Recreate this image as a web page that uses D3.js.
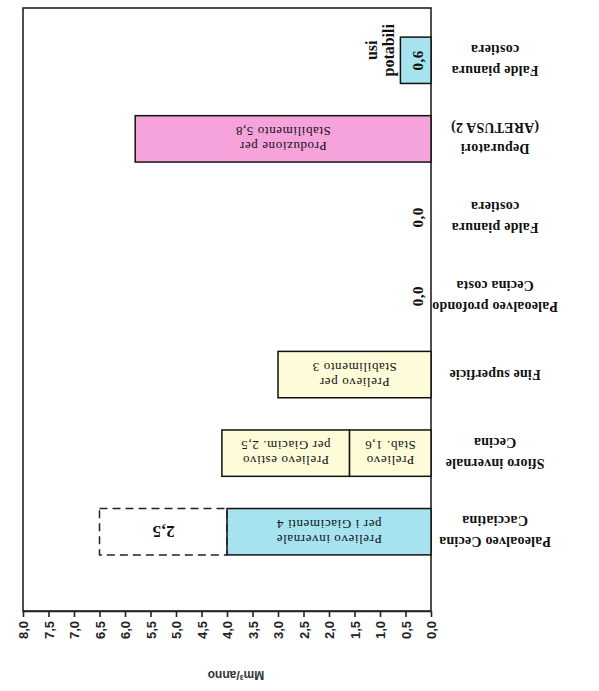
<!DOCTYPE html>
<html>
<head>
<meta charset="utf-8">
<script src="https://cdn.jsdelivr.net/npm/d3@7"></script>
<style>
  html, body { margin: 0; padding: 0; background: #fff; }
  svg { display: block; }
</style>
</head>
<body>
<svg id="chart" width="599" height="691"></svg>
<script>
// Categories as they appear from top to bottom of the (upside-down) picture
const categories = [
  ["Falde pianura", "costiera"],
  ["Depuratori", "(ARETUSA 2)"],
  ["Falde pianura", "costiera"],
  ["Paleoalveo profondo", "Cecina costa"],
  ["Fine superficie"],
  ["Sfioro invernale", "Cecina"],
  ["Paleoalveo Cecina", "Cacciatina"]
];
const categoryIds = ["c1", "c2", "c3", "c4", "c5", "c6", "c7"];

// Series values (Mm³/anno)
const firstValues  = [0.6, 5.8, 0.0, 0.0, 3.0, 1.6, 4.0];
const secondValues = [0.0, 0.0, 0.0, 0.0, 0.0, 2.5, 0.0];
const dashedValues = [0.0, 0.0, 0.0, 0.0, 0.0, 0.0, 2.5];

const firstLabels = [
  null,
  ["Produzione per", "Stabilimento 5,8"],
  null, null,
  ["Prelievo per", "Stabilimento 3"],
  ["Prelievo", "Stab. 1,6"],
  ["Prelievo invernale", "per i Giacimenti 4"]
];
const secondLabels = [null, null, null, null, null, ["Prelievo estivo", "per Giacim. 2,5"], null];
const valueTexts = ["0,6", null, "0,0", "0,0", null, null, null];
const dashedTexts = [null, null, null, null, null, null, "2,5"];
const barColors = ["#a6e3ef", "#f6a3db", null, null, "#fdfbd8", "#fdfbd8", "#a6e3ef"];

const tickValues = [0, 0.5, 1, 1.5, 2, 2.5, 3, 3.5, 4, 4.5, 5, 5.5, 6, 6.5, 7, 7.5, 8];
const axisTitle = "Mm³/anno";
const groupLabel = ["usi", "potabili"];

const svg = d3.select("#chart");
const pLeft = 23, pRight = 431, pTop = 8, pBottom = 611;

const x = d3.scaleLinear().domain([0, 8]).range([pRight, pLeft]);
const y = d3.scaleBand().domain(categoryIds).range([21, 571])
  .paddingInner(0.41).paddingOuter(0.205);

// Frame
svg.append("rect")
  .attr("x", pLeft).attr("y", pTop)
  .attr("width", pRight - pLeft).attr("height", pBottom - pTop)
  .attr("fill", "none").attr("stroke", "#222").attr("stroke-width", 1.6);

const rows = categoryIds.map((id, i) => ({
  id, i, v1: firstValues[i], v2: secondValues[i], vd: dashedValues[i]
}));

// First segment bars
svg.selectAll("rect.b1").data(rows.filter(d => d.v1 > 0)).join("rect")
  .attr("class", "b1")
  .attr("x", d => x(d.v1)).attr("y", d => y(d.id))
  .attr("width", d => x(0) - x(d.v1)).attr("height", y.bandwidth())
  .attr("fill", d => barColors[d.i]).attr("stroke", "#111").attr("stroke-width", 1.5);

// Second (stacked) segment
svg.selectAll("rect.b2").data(rows.filter(d => d.v2 > 0)).join("rect")
  .attr("class", "b2")
  .attr("x", d => x(d.v1 + d.v2)).attr("y", d => y(d.id))
  .attr("width", d => x(d.v1) - x(d.v1 + d.v2)).attr("height", y.bandwidth())
  .attr("fill", d => barColors[d.i]).attr("stroke", "#111").attr("stroke-width", 1.5);

// Dashed potential segment
svg.selectAll("rect.bd").data(rows.filter(d => d.vd > 0)).join("rect")
  .attr("class", "bd")
  .attr("x", d => x(d.v1 + d.v2 + d.vd)).attr("y", d => y(d.id))
  .attr("width", d => x(d.v1 + d.v2) - x(d.v1 + d.v2 + d.vd)).attr("height", y.bandwidth())
  .attr("fill", "none").attr("stroke", "#222").attr("stroke-width", 1.5)
  .attr("stroke-dasharray", "8,5");

// helper: upside-down multi-line text
function flipText(g, cx, cy, lines, size, weight, family, lh, ls) {
  const t = g.append("text")
    .attr("transform", `translate(${cx},${cy}) rotate(180)`)
    .attr("text-anchor", "middle")
    .attr("font-family", family).attr("font-size", size).attr("font-weight", weight)
    .attr("letter-spacing", ls || 0)
    .attr("fill", "#111");
  const n = lines.length;
  lines.forEach((ln, k) => {
    t.append("tspan").attr("x", 0)
      .attr("y", (k - (n - 1) / 2) * lh)
      .attr("dy", "0.35em").text(ln);
  });
  return t;
}

const serif = "'Liberation Serif', 'DejaVu Serif', serif";
const sans = "'Liberation Sans', Arial, sans-serif";

// Category labels
rows.forEach(d => {
  flipText(svg, 495, y(d.id) + y.bandwidth() / 2, categories[d.i], 14, "bold", serif, 21, 0.2);
});

// Labels inside bars
rows.forEach(d => {
  const cy = y(d.id) + y.bandwidth() / 2;
  if (firstLabels[d.i]) {
    flipText(svg, (x(0) + x(d.v1)) / 2, cy, firstLabels[d.i], 13, "normal", serif, 15, 0.6);
  }
  if (secondLabels[d.i]) {
    flipText(svg, (x(d.v1) + x(d.v1 + d.v2)) / 2, cy, secondLabels[d.i], 13, "normal", serif, 15, 0.6);
  }
  if (dashedTexts[d.i]) {
    flipText(svg, (x(d.v1 + d.v2) + x(d.v1 + d.v2 + d.vd)) / 2, cy, [dashedTexts[d.i]], 17, "bold", serif, 16, 0.5);
  }
  if (valueTexts[d.i]) {
    svg.append("text")
      .attr("transform", `translate(${x(0) - 13},${cy}) rotate(-90)`)
      .attr("text-anchor", "middle").attr("dy", "0.35em")
      .attr("font-family", serif).attr("font-size", 15).attr("font-weight", "bold")
      .attr("letter-spacing", 0.5)
      .attr("fill", "#111").text(valueTexts[d.i]);
  }
});

// "usi potabili" group label
{
  const cy = y(categoryIds[0]) + y.bandwidth() / 2 - 10;
  const t = svg.append("text")
    .attr("transform", `translate(380,${cy}) rotate(-90)`)
    .attr("text-anchor", "middle")
    .attr("font-family", serif).attr("font-size", 16).attr("font-weight", "bold")
    .attr("fill", "#111");
  groupLabel.forEach((ln, k) => {
    t.append("tspan").attr("x", 0).attr("y", (k - 0.5) * 17).attr("dy", "0.35em").text(ln);
  });
}

// Value axis
const axis = d3.axisBottom(x).tickValues(tickValues)
  .tickFormat(d => d.toFixed(1).replace(".", ","))
  .tickSize(6).tickSizeOuter(0);
const ag = svg.append("g").attr("transform", `translate(0,${pBottom})`).call(axis);
ag.select(".domain").attr("stroke", "#222").attr("stroke-width", 1.6);
ag.selectAll(".tick line").attr("stroke", "#222").attr("stroke-width", 1.6);
ag.selectAll(".tick text")
  .attr("transform", "rotate(-90)")
  .attr("text-anchor", "end")
  .attr("x", -10).attr("y", 0).attr("dy", "0.35em")
  .attr("font-family", sans).attr("font-size", 13).attr("font-weight", "bold")
  .attr("fill", "#222");

// Axis title (upside down)
svg.append("text")
  .attr("transform", `translate(236,675) rotate(180)`)
  .attr("text-anchor", "middle").attr("dy", "0.35em")
  .attr("font-family", sans).attr("font-size", 12).attr("font-weight", "bold")
  .attr("fill", "#333").text(axisTitle);
</script>
</body>
</html>
